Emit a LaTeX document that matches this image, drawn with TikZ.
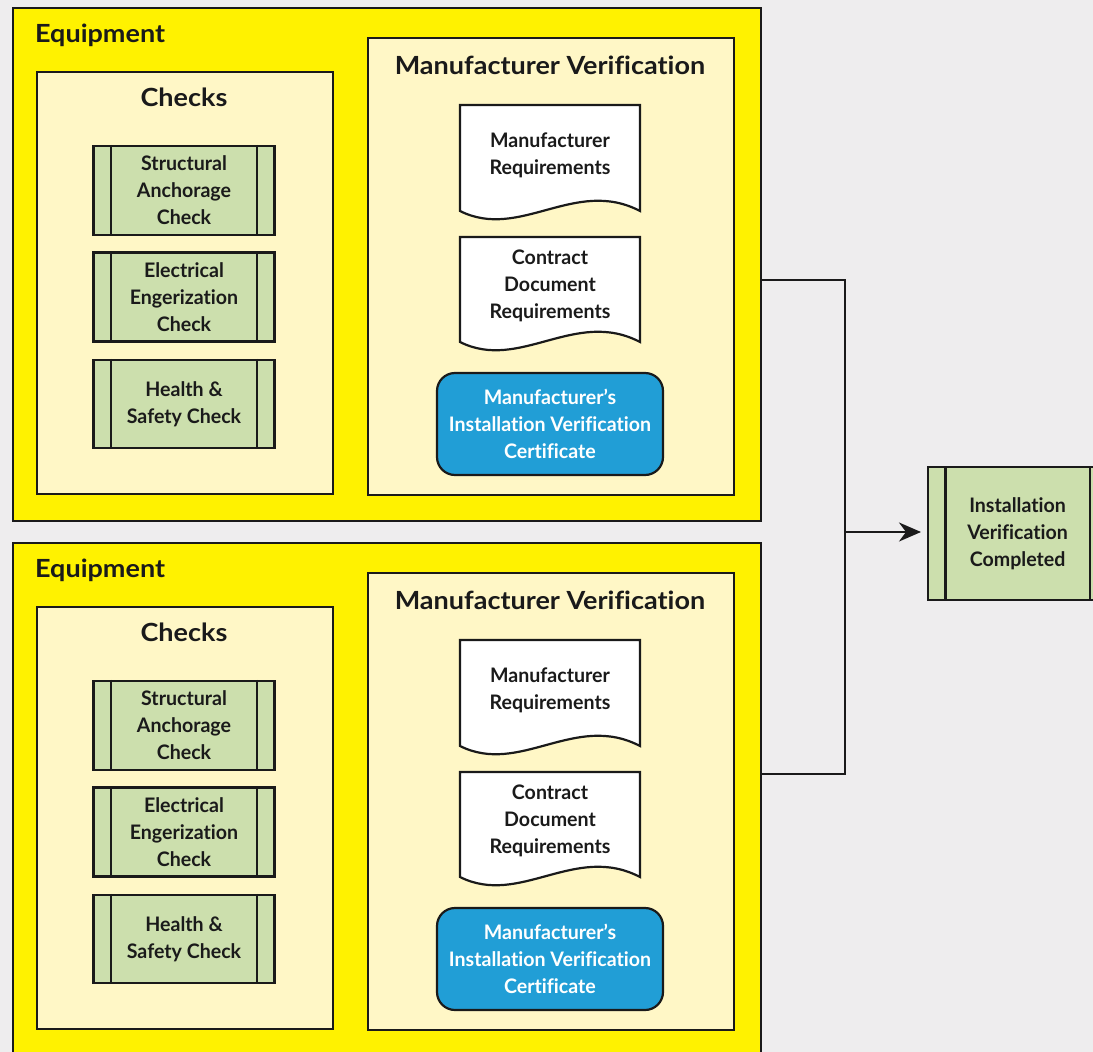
\documentclass[tikz,border=0pt]{standalone}
\usepackage{fontspec}
\setmainfont{Lato}
\newfontfamily\titlefont{Lato Bold}[FakeStretch=1.08, Ligatures=NoCommon]
\newfontfamily\boxfont{Lato Bold}[FakeStretch=0.98, Ligatures=NoCommon]
\usetikzlibrary{calc,arrows.meta}

\definecolor{bggray}{HTML}{EEEDEE}
\definecolor{eqyellow}{HTML}{FFF200}
\definecolor{cream}{HTML}{FFF7C6}
\definecolor{procgreen}{HTML}{CCDFAD}
\definecolor{certblue}{HTML}{219ED6}
\definecolor{ink}{HTML}{1A1A1A}

\tikzset{
  outline/.style={draw=ink, line width=2.2pt},
  equipbox/.style={outline, fill=eqyellow},
  panel/.style={outline, fill=cream},
  heading/.style={font=\titlefont\fontsize{25}{29}\selectfont, text=ink, inner sep=0pt},
  boxtext/.style={font=\boxfont\fontsize{20}{27}\selectfont},
  procbox/.style={outline, fill=procgreen, minimum width=181pt, minimum height=89pt,
    align=center, inner sep=0pt, text=ink, boxtext},
  doctext/.style={align=center, inner sep=0pt, text=ink, boxtext},
  docshape/.style={outline, fill=white},
  certbox/.style={outline, fill=certblue, rounded corners=18pt, minimum width=226pt, minimum height=102pt,
    align=center, inner sep=0pt, text=white, boxtext},
  link/.style={draw=ink, line width=2.2pt},
}

% side bars of a predefined-process box
\newcommand\procbars[1]{%
  \draw[ink, line width=2.2pt] ($(#1.north west)+(18.5,0)$) -- ($(#1.south west)+(18.5,0)$);
  \draw[ink, line width=2.2pt] ($(#1.north east)+(-18.5,0)$) -- ($(#1.south east)+(-18.5,0)$);
}

% document shape with a wavy lower edge: #1 name, #2 left, #3 top, #4 right, #5 bottom
\newcommand\docpath[5]{%
  \draw[docshape] (#2,#3) -- (#4,#3) -- (#4,#5)
     .. controls ({#4-65},{#5-34}) and ({#2+60},{#5+30}) .. (#2,#5) -- cycle;
  \coordinate (#1) at ({(#2+#4)/2},{(#3+#5)/2});
}

% one equipment block, shifted vertically by #1, node names prefixed by #2
\newcommand\equipblock[2]{%
  \begin{scope}[yshift=-#1pt]
    \node[equipbox, minimum width=748pt, minimum height=513pt, anchor=north west, inner sep=0pt] (#2eq) at (12,7) {};
    \node[heading, anchor=base west] (#2eqlabel) at (35,42) {Equipment};
    % checks panel
    \node[panel, minimum width=296pt, minimum height=422pt, anchor=north west, inner sep=0pt] (#2checks) at (36,71) {};
    \node[heading, anchor=base] (#2checkslabel) at (184,106) {Checks};
    \node[procbox] (#2struct) at (184,190.5) {Structural\\Anchorage\\Check};
    \procbars{#2struct}
    \node[procbox] (#2elec) at (184,297) {Electrical\\Engerization\\Check};
    \procbars{#2elec}
    \node[procbox, minimum height=88pt] (#2health) at (184,404) {Health \&\\Safety Check};
    \procbars{#2health}
    % manufacturer verification panel
    \node[panel, minimum width=366pt, minimum height=457pt, anchor=north west, inner sep=0pt] (#2mfr) at (367,37) {};
    \node[heading, anchor=base] (#2mfrlabel) at (550,74) {Manufacturer Verification};
    \docpath{#2mreqc}{460}{105}{640}{211}
    \node[doctext] (#2mreq) at (550,155) {Manufacturer\\Requirements};
    \docpath{#2creqc}{460}{237}{640}{342}
    \node[doctext] (#2creq) at (550,286) {Contract\\Document\\Requirements};
    \node[certbox] (#2cert) at (550,424) {Manufacturer’s\\Installation Verification\\Certificate};
    \coordinate (#2out) at (760,280);
  \end{scope}
}

\begin{document}
\begin{tikzpicture}[x=1pt,y=-1pt]
  \clip (0,0) rectangle (1093,1052);
  \fill[bggray] (0,0) rectangle (1093,1052);
  \useasboundingbox (0,0) rectangle (1093,1052);

  \equipblock{0}{a}
  \equipblock{535}{b}

  % final process step (runs off the right edge)
  \node[procbox, minimum width=179pt, minimum height=133pt, anchor=north west] (done) at (927,466)
    {Installation\\Verification\\Completed};
  \procbars{done}

  % joining connector
  \coordinate (ajoin) at (845,280);
  \coordinate (bjoin) at (845,774);
  \coordinate (mid) at (845,532);
  \draw[link, line join=miter] (aout) -- (ajoin) -- (bjoin) -- (760,774);
  \draw[link, shorten >=6pt, -{Stealth[length=22pt,width=19pt,inset=7pt]}] (mid) -- (done.west |- mid);
\end{tikzpicture}
\end{document}
